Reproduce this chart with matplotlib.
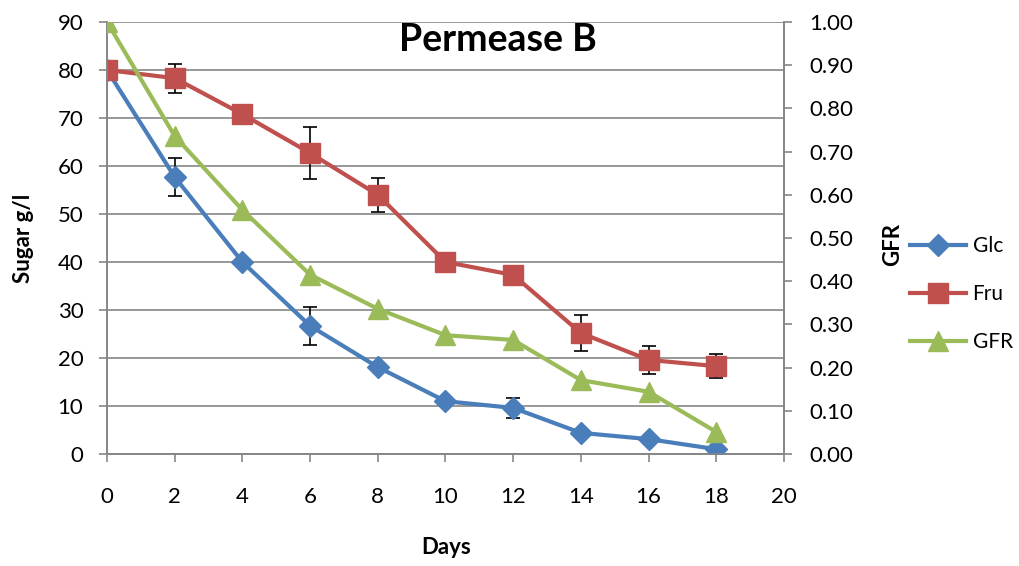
import matplotlib
matplotlib.use("Agg")
import matplotlib.pyplot as plt
from matplotlib.lines import Line2D
from matplotlib.ticker import FormatStrFormatter

plt.rcParams['font.family'] = ['Lato', 'DejaVu Sans']

days = [0, 2, 4, 6, 8, 10, 12, 14, 16, 18]
glc = [80.0, 57.7, 40.0, 26.7, 18.1, 11.0, 9.6, 4.4, 3.1, 1.0]
glc_err = [0, 4.0, 0, 4.0, 0, 0, 2.0, 0, 0, 0]
fru = [80.0, 78.3, 70.8, 62.7, 54.0, 40.0, 37.3, 25.2, 19.6, 18.3]
fru_err = [0, 3.0, 0, 5.4, 3.5, 0, 0, 3.8, 3.0, 2.5]
gfr = [1.00, 0.736, 0.565, 0.415, 0.336, 0.275, 0.264, 0.171, 0.144, 0.051]

c_glc = '#4A7EBB'
c_fru = '#C0504D'
c_gfr = '#9BBB59'
grey = '#868686'

W, H = 1019, 566
fig = plt.figure(figsize=(W / 100, H / 100), dpi=100)
ax = fig.add_axes([107 / W, 1 - 454 / H, 677 / W, 432 / H])
ax2 = ax.twinx()

ax.set_xlim(0, 20)
ax.set_ylim(0, 90)
ax2.set_ylim(0, 1.0)
ax.set_xticks(range(0, 21, 2))
ax.set_yticks(range(0, 91, 10))
ax2.set_yticks([i / 10 for i in range(11)])
ax2.yaxis.set_major_formatter(FormatStrFormatter('%.2f'))

ax.yaxis.grid(True, color=grey, lw=1.2)
ax.set_axisbelow(True)

for a in (ax, ax2):
    a.spines['top'].set_visible(False)
    for s in ('left', 'right', 'bottom'):
        a.spines[s].set_color(grey)
        a.spines[s].set_linewidth(1.2)
    a.tick_params(colors=grey, width=1.2, length=6, labelsize=16, labelcolor='black')
ax.tick_params(axis='x', pad=18)
ax.tick_params(axis='y', pad=11)
ax2.tick_params(axis='y', pad=12)

lw = 3.0
ax.errorbar(days, glc, yerr=glc_err, fmt='none', ecolor='black',
            elinewidth=1.2, capsize=5, capthick=1.2, zorder=2)
ax.errorbar(days, fru, yerr=fru_err, fmt='none', ecolor='black',
            elinewidth=1.2, capsize=5, capthick=1.2, zorder=2)
ax.plot(days, glc, color=c_glc, lw=lw, marker='D', ms=11, zorder=3)
ax.plot(days, fru, color=c_fru, lw=lw, marker='s', ms=14, zorder=3)
ax2.plot(days, gfr, color=c_gfr, lw=lw, marker='^', ms=15, zorder=3)

fig.text(498 / W, 1 - 51 / H, 'Permease B', ha='center', va='baseline',
         fontsize=27, fontweight='bold')
fig.text(24 / W, 1 - 238 / H, 'Sugar g/l', rotation=90, ha='center', va='center',
         fontsize=16, fontweight='bold')
fig.text(446 / W, 1 - 548 / H, 'Days', ha='center', va='center',
         fontsize=16, fontweight='bold')
fig.text(893 / W, 1 - 245 / H, 'GFR', rotation=90, ha='center', va='center',
         fontsize=16, fontweight='bold')

handles = [
    Line2D([], [], color=c_glc, lw=lw, marker='D', ms=11),
    Line2D([], [], color=c_fru, lw=lw, marker='s', ms=14),
    Line2D([], [], color=c_gfr, lw=lw, marker='^', ms=15),
]
fig.legend(handles, ['Glc', 'Fru', 'GFR'], loc='center left',
           bbox_to_anchor=(910 / W, 1 - 294 / H), frameon=False, fontsize=15,
           handlelength=2.7, handletextpad=0.3, labelspacing=1.35, borderpad=0,
           borderaxespad=0)

fig.savefig('out.png', dpi=100)
